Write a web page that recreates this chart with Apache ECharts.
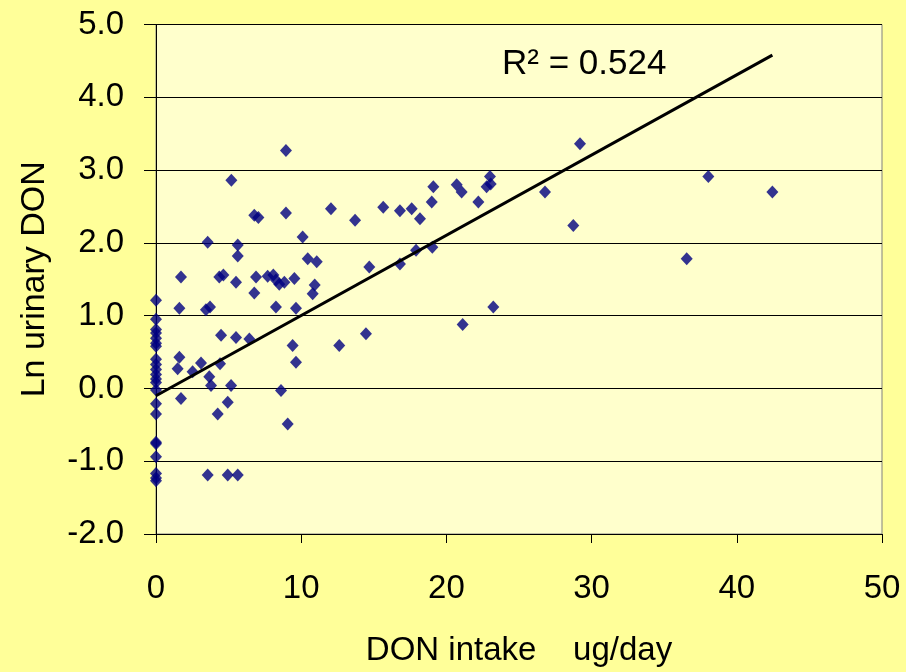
<!DOCTYPE html>
<html>
<head>
<meta charset="utf-8">
<script src="https://cdn.jsdelivr.net/npm/echarts@6/dist/echarts.min.js"></script>
<style>
html,body{margin:0;padding:0;background:#FFFF99;}
#chart{width:906px;height:672px;}
</style>
</head>
<body>
<div id="chart"></div>
<script>
// DON intake (ug/day)
const intakeX = [
  0,0,0,0,0,0,0,0,0,0,0,0,0,0,0,0,0,0,0,0,0,0,
  1.49,1.61,1.61,1.72,1.72,
  2.52,3.10,3.44,3.56,3.56,3.67,3.72,3.79,
  4.25,4.36,4.41,4.48,4.64,4.94,4.94,
  5.17,5.19,5.51,5.51,5.63,5.63,5.63,
  6.43,6.77,6.77,6.89,7.05,
  7.69,8.08,8.26,8.26,8.49,8.61,8.84,8.95,8.95,
  9.07,9.41,9.53,9.64,9.64,
  10.1,10.45,10.79,10.93,11.07,
  12.05,12.62,13.71,14.46,14.69,15.65,
  16.80,16.80,17.61,17.91,18.18,18.99,19.03,19.10,
  20.71,21.05,21.12,22.20,22.77,23.0,23.05,23.23,
  26.79,28.74,29.2,36.55,38.04,42.45
];
// Ln urinary DON
const lnUrinary = [
  1.21,0.95,0.81,0.76,0.69,0.62,0.58,0.40,0.33,0.26,0.19,0.13,0.08,-0.02,-0.21,-0.35,-0.74,-0.76,-0.94,-1.17,-1.23,-1.27,
  0.27,0.43,1.10,1.53,-0.14,
  0.23,0.35,1.08,2.01,-1.19,0.16,1.12,0.04,
  -0.35,1.53,0.34,0.73,1.56,-0.19,-1.19,
  0.04,2.86,1.46,0.70,1.97,1.82,-1.19,
  0.68,2.38,1.31,1.53,2.35,
  1.54,1.56,1.49,1.12,1.43,-0.03,1.46,3.27,2.41,
  -0.49,0.59,1.51,1.10,0.36,
  2.08,1.78,1.30,1.42,1.74,
  2.47,0.59,2.31,0.75,1.67,2.49,
  2.44,1.71,2.47,1.90,2.33,2.56,1.94,2.77,
  2.80,2.70,0.88,2.56,2.77,2.91,2.81,1.12,
  2.70,2.24,3.36,1.78,2.91,2.70
];
// Linear trend line endpoints
const trendX = [0, 42.45];
const trendY = [-0.10, 4.58];
const xTicks = [0, 10, 20, 30, 40, 50];
const yTicks = [-2, -1, 0, 1, 2, 3, 4, 5];
const rSquaredText = 'R\u00B2 = 0.524';

const points = intakeX.map((x, i) => [x, lnUrinary[i]]);
const trend = trendX.map((x, i) => [x, trendY[i]]);

const FONT = 'Liberation Sans, Arial, sans-serif';
const chart = echarts.init(document.getElementById('chart'), null, {renderer: 'canvas'});
chart.setOption({
  backgroundColor: '#FFFF99',
  animation: false,
  grid: {
    left: 156, right: 24, top: 24.5, bottom: 137.5,
    show: true, backgroundColor: '#FFFFCC', borderColor: '#808080', borderWidth: 1
  },
  xAxis: {
    type: 'value', min: xTicks[0], max: xTicks[xTicks.length - 1], interval: 10,
    name: 'DON intake    ug/day', nameLocation: 'middle', nameGap: 100,
    nameTextStyle: {fontFamily: FONT, fontSize: 33, color: '#000'},
    axisLine: {onZero: false, lineStyle: {color: '#000', width: 1}},
    axisTick: {show: true, length: 9, lineStyle: {color: '#000'}},
    axisLabel: {fontFamily: FONT, fontSize: 33, color: '#000', margin: 38},
    splitLine: {show: false}
  },
  yAxis: {
    type: 'value', min: yTicks[0], max: yTicks[yTicks.length - 1], interval: 1,
    name: 'Ln urinary DON', nameLocation: 'middle', nameGap: 104,
    nameTextStyle: {fontFamily: FONT, fontSize: 34, color: '#000'},
    axisLine: {show: true, onZero: false, lineStyle: {color: '#000', width: 1}},
    axisTick: {show: true, length: 12, lineStyle: {color: '#000'}},
    axisLabel: {fontFamily: FONT, fontSize: 33, color: '#000', margin: 32,
      formatter: v => v.toFixed(1)},
    splitLine: {show: true, lineStyle: {color: '#000', width: 1}}
  },
  series: [
    {
      type: 'scatter', data: points, symbol: 'diamond', symbolSize: [12, 13],
      itemStyle: {color: '#000080'}, z: 3
    },
    {
      type: 'line', data: trend, showSymbol: false, symbol: 'none',
      lineStyle: {color: '#000', width: 3}, z: 4, silent: true
    }
  ],
  graphic: [
    {
      type: 'text', left: 502, top: 47,
      style: {text: rSquaredText, font: '35px ' + FONT, fill: '#000'}
    }
  ]
});
</script>
</body>
</html>
